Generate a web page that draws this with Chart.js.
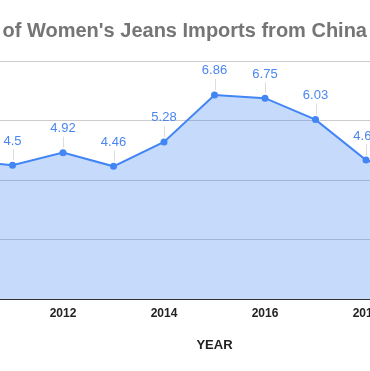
<!DOCTYPE html>
<html>
<head>
<meta charset="utf-8">
<script src="https://cdn.jsdelivr.net/npm/chart.js@4"></script>
<style>
  html, body { margin: 0; padding: 0; background: #fff; overflow: hidden; }
  body { width: 370px; height: 371px; position: relative; }
  .chart-title {
    position: absolute; right: 3px; top: 19px;
    white-space: nowrap; font: bold 20px "Liberation Sans", Arial, sans-serif;
    color: #757575; z-index: 2;
  }
  .chart-wrap { position: absolute; left: -42px; top: 0; width: 513px; height: 371px; }
</style>
</head>
<body>
<div class="chart-title">Value of Women's Jeans Imports from China</div>
<div class="chart-wrap"><canvas id="jeansChart"></canvas></div>
<script>
const years = [2010, 2011, 2012, 2013, 2014, 2015, 2016, 2017, 2018, 2019];
const imports = [4.66, 4.5, 4.92, 4.46, 5.28, 6.86, 6.75, 6.03, 4.67, 4.1];
const yearTicks = [2012, 2014, 2016, 2018];
const valueTicks = [0, 2, 4, 6, 8];

const blue = '#4285f4';

// data labels with a small leader line, like the google chart annotations
const pointLabels = {
    id: 'pointLabels',
    afterDatasetsDraw(chart) {
        const ctx = chart.ctx;
        const meta = chart.getDatasetMeta(0);
        ctx.save();
        meta.data.forEach((pt, i) => {
            ctx.strokeStyle = '#dddddd';
            ctx.lineWidth = 1;
            ctx.beginPath();
            ctx.moveTo(Math.round(pt.x) + 0.5, pt.y - 5);
            ctx.lineTo(Math.round(pt.x) + 0.5, pt.y - 16);
            ctx.stroke();
            ctx.fillStyle = '#4a86f0';
            ctx.font = '13px "Liberation Sans", Arial, sans-serif';
            ctx.textAlign = 'center';
            ctx.textBaseline = 'middle';
            ctx.fillText(String(imports[i]), pt.x, pt.y - 24);
        });
        ctx.restore();
    }
};

new Chart(document.getElementById('jeansChart').getContext('2d'), {
    type: 'line',
    data: {
        datasets: [{
            data: years.map((y, i) => ({ x: y, y: imports[i] })),
            borderColor: blue,
            backgroundColor: 'rgba(66, 133, 244, 0.3)',
            borderWidth: 2,
            fill: 'origin',
            tension: 0,
            pointRadius: 3.5,
            pointBackgroundColor: blue,
            pointBorderWidth: 0
        }]
    },
    options: {
        responsive: true,
        maintainAspectRatio: false,
        animation: false,
        layout: { padding: { top: 61, left: 0, right: 0, bottom: 0 } },
        plugins: {
            legend: { display: false },
            tooltip: { enabled: false }
        },
        scales: {
            x: {
                type: 'linear',
                min: 2010,
                max: 2020,
                afterBuildTicks: (axis) => { axis.ticks = yearTicks.map(v => ({ value: v })); },
                ticks: {
                    padding: 7,
                    color: '#222',
                    font: { family: '"Liberation Sans", Arial, sans-serif', size: 12, weight: 'bold' },
                    callback: (v) => String(v)
                },
                grid: { display: false, drawTicks: false },
                border: { color: '#333333', width: 1 },
                title: {
                    display: true,
                    text: 'YEAR',
                    color: '#222',
                    font: { family: '"Liberation Sans", Arial, sans-serif', size: 13, weight: 'bold' },
                    padding: { top: 10, bottom: 18 }
                }
            },
            y: {
                min: 0,
                max: 8,
                afterBuildTicks: (axis) => { axis.ticks = valueTicks.map(v => ({ value: v })); },
                ticks: { display: false },
                grid: { color: '#cccccc', drawTicks: false },
                border: { display: false }
            }
        }
    },
    plugins: [pointLabels]
});
</script>
</body>
</html>
